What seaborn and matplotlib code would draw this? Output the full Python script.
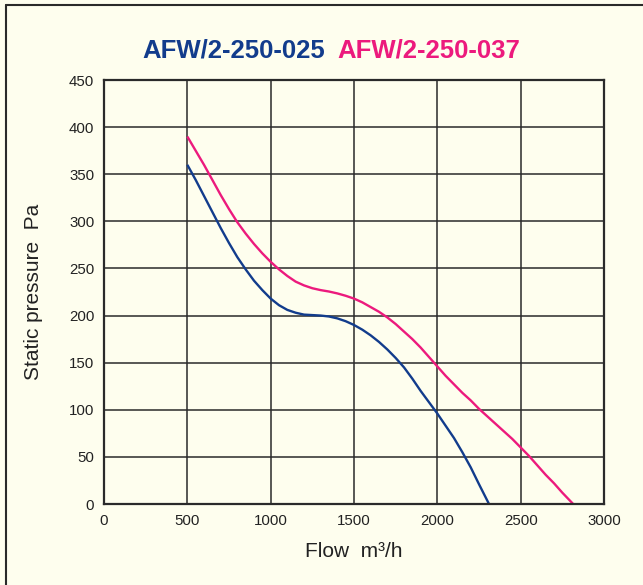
import matplotlib
matplotlib.use("Agg")
import matplotlib.pyplot as plt
from matplotlib.lines import Line2D
import seaborn as sns
import pandas as pd

# ---- data ----
flow_025 = [500, 550, 600, 650, 700, 750, 800, 850, 900, 950, 1000, 1050, 1100,
            1150, 1200, 1250, 1300, 1350, 1400, 1450, 1500, 1550, 1600, 1650,
            1700, 1750, 1800, 1850, 1900, 1950, 2000, 2050, 2100, 2150, 2200,
            2250, 2310]
pres_025 = [360, 344, 327, 310, 293, 277, 262, 249, 237, 227, 218, 211, 206,
            203, 201, 200.5, 200, 199, 197, 194, 190, 185, 179, 172,
            164, 155, 145, 133, 120, 108, 96, 83, 70, 55, 39,
            21, 0]

flow_037 = [500, 550, 600, 650, 700, 750, 800, 850, 900, 950, 1000, 1050, 1100,
            1150, 1200, 1250, 1300, 1350, 1400, 1450, 1500, 1550, 1600, 1650,
            1700, 1750, 1800, 1850, 1900, 1950, 2000, 2050, 2100, 2150, 2200,
            2250, 2300, 2350, 2400, 2450, 2500, 2550, 2600, 2650, 2700, 2750, 2815]
pres_037 = [390, 375, 360, 344, 328, 313, 299, 287, 276, 266, 257, 249, 242,
            236, 232, 229, 227, 225.5, 223.5, 221, 218, 214, 209, 204,
            198, 191, 183, 175, 166, 156, 146, 136, 127, 118, 110,
            101, 93, 85, 77, 69, 60, 51, 41, 31, 22, 12, 0]

series_names = ["AFW/2-250-025", "AFW/2-250-037"]
x_ticks = [0, 500, 1000, 1500, 2000, 2500, 3000]
y_ticks = [0, 50, 100, 150, 200, 250, 300, 350, 400, 450]

BLUE = "#123C8C"
PINK = "#EC1A7D"
BG = "#FEFEEE"
DARK = "#2a2a2a"

sns.set_theme(style="white")
plt.rcParams["font.family"] = ["Liberation Sans", "DejaVu Sans"]

df = pd.concat([
    pd.DataFrame({"flow": flow_025, "pressure": pres_025, "model": series_names[0]}),
    pd.DataFrame({"flow": flow_037, "pressure": pres_037, "model": series_names[1]}),
], ignore_index=True)

fig = plt.figure(figsize=(6.43, 5.85), dpi=100, facecolor=BG)
ax = fig.add_axes([104 / 643, 1 - 504 / 585, 500 / 643, 424 / 585])
ax.set_facecolor(BG)

sns.lineplot(data=df, x="flow", y="pressure", hue="model", sort=False,
             palette={series_names[0]: BLUE, series_names[1]: PINK},
             linewidth=1.7, legend=False, ax=ax, zorder=3)
for ln in ax.lines:
    ln.set_solid_joinstyle("round")
    ln.set_solid_capstyle("butt")

ax.set_xlim(0, 3000)
ax.set_ylim(0, 450)
ax.set_xticks(x_ticks)
ax.set_yticks(y_ticks)
ax.set_xticklabels([str(v) for v in x_ticks])
ax.set_yticklabels([str(v) for v in y_ticks])
ax.tick_params(axis="both", length=0, labelsize=10.8, colors="#222222", pad=7)
ax.grid(True, color=DARK, linewidth=1.1)
ax.set_axisbelow(True)
for s in ax.spines.values():
    s.set_visible(True)
    s.set_color(DARK)
    s.set_linewidth(1.6)
    s.set_zorder(4)

ax.set_xlabel("Flow  m³/h", fontsize=15, color="#222222", labelpad=10)
ax.set_ylabel("Static pressure  Pa", fontsize=15, color="#222222", labelpad=19)

fig.text(325 / 643, 1 - 58 / 585, series_names[0], color=BLUE, fontsize=18.5,
         fontweight="bold", ha="right", va="baseline")
fig.text(337 / 643, 1 - 58 / 585, series_names[1], color=PINK, fontsize=18.5,
         fontweight="bold", ha="left", va="baseline")

# figure frame: left and top lines
fig.add_artist(Line2D([5.8 / 643, 5.8 / 643], [0, 1 - 4.8 / 585],
                      transform=fig.transFigure, color=DARK, linewidth=1.5))
fig.add_artist(Line2D([5.8 / 643, 1], [1 - 4.8 / 585, 1 - 4.8 / 585],
                      transform=fig.transFigure, color=DARK, linewidth=1.5))

fig.savefig("out.png", dpi=100, facecolor=BG)
